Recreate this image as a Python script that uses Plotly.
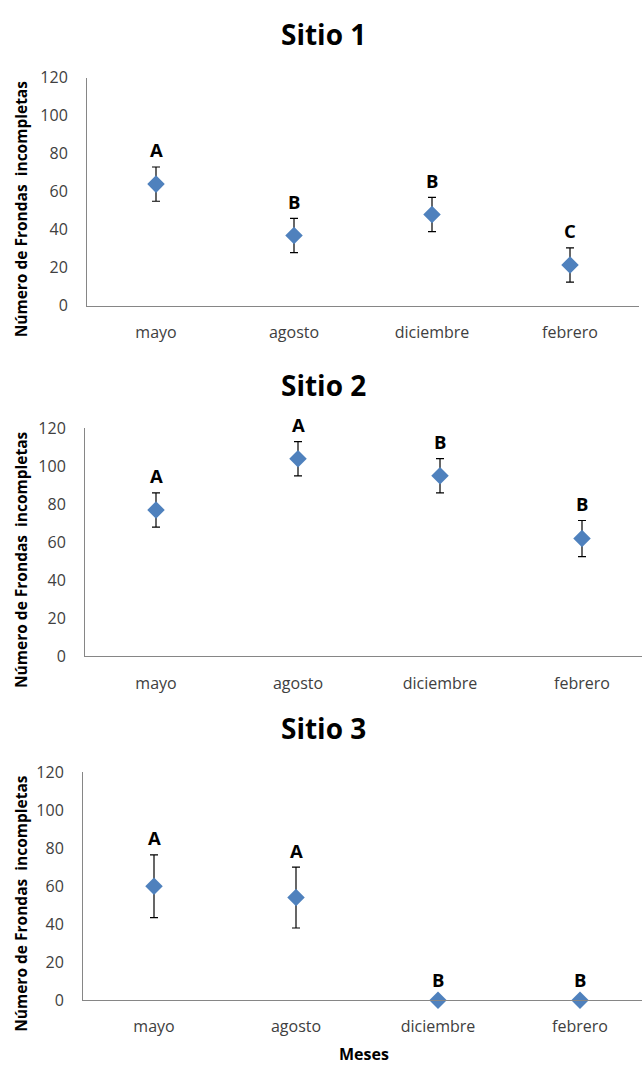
import plotly.graph_objects as go

meses = ["mayo", "agosto", "diciembre", "febrero"]
titulos = ["Sitio 1", "Sitio 2", "Sitio 3"]

sitio1_media = [64, 37, 48, 21.5]
sitio1_error = [9, 9, 9, 9]
sitio1_letras = ["A", "B", "B", "C"]

sitio2_media = [77, 104, 95, 62]
sitio2_error = [9, 9, 9, 9.5]
sitio2_letras = ["A", "A", "B", "B"]

sitio3_media = [60, 54, 0, 0]
sitio3_error = [16.5, 16, 0, 0]
sitio3_letras = ["A", "A", "B", "B"]

y_ticks = [0, 20, 40, 60, 80, 100, 120]

datos = [
    (sitio1_media, sitio1_error, sitio1_letras),
    (sitio2_media, sitio2_error, sitio2_letras),
    (sitio3_media, sitio3_error, sitio3_letras),
]

W, H = 642, 1073
# layout geometry in pixels: (top of 120, y of 0, left axis x, category band width)
panel_px = [(68, 301, 87, 138), (426, 659, 85, 142), (777, 1010, 83, 142)]
title_px = [23, 382, 732]

FONT = "Open Sans"
AXIS_COLOR = "#868686"
TEXT_COLOR = "#404040"

fig = go.Figure()
annotations = []

for i, ((media, err, letras), (top, bot, left, band)) in enumerate(zip(datos, panel_px)):
    n = i + 1
    xa = "x" if n == 1 else f"x{n}"
    ya = "y" if n == 1 else f"y{n}"
    fig.add_trace(go.Scatter(
        x=meses, y=media, mode="markers",
        marker=dict(symbol="diamond", size=13.5, color="#4F81BD"),
        error_y=dict(type="data", array=err, visible=True, color="#000000",
                     thickness=1.2, width=4),
        xaxis=xa, yaxis=ya, cliponaxis=False, showlegend=False,
    ))
    right = min(left + 4 * band, W)
    x_hi = -0.5 + (right - left) / band
    dom_y = [1 - bot / H, 1 - top / H]
    axkey = "xaxis" if n == 1 else f"xaxis{n}"
    aykey = "yaxis" if n == 1 else f"yaxis{n}"
    fig.layout[axkey] = dict(
        domain=[left / W, right / W], anchor=ya, type="category",
        categoryorder="array", categoryarray=meses, range=[-0.5, x_hi],
        showline=True, linecolor=AXIS_COLOR, linewidth=1, showgrid=False,
        zeroline=False, ticks="", ticklabelstandoff=12,
        tickfont=dict(family=FONT, size=16, color=TEXT_COLOR),
        fixedrange=True,
    )
    fig.layout[aykey] = dict(
        domain=dom_y, anchor=xa, range=[0, 120], tickvals=y_ticks,
        showline=True, linecolor=AXIS_COLOR, linewidth=1, showgrid=False,
        zeroline=False, ticks="", ticklabelstandoff=15,
        tickfont=dict(family=FONT, size=16, color=TEXT_COLOR),
        fixedrange=True,
    )
    for m, v, e, l in zip(meses, media, err, letras):
        annotations.append(dict(
            x=m, y=v + e, xref=xa, yref=ya, text=l, showarrow=False,
            xanchor="center", yanchor="middle", yshift=17 if e > 0 else 21,
            font=dict(family=FONT, size=18.5, color="#000000", weight="bold"),
        ))
    annotations.append(dict(
        x=324 / W, y=1 - title_px[i] / H, xref="paper", yref="paper",
        text=titulos[i], showarrow=False, xanchor="center", yanchor="middle",
        font=dict(family=FONT, size=28, color="#000000", weight="bold"),
    ))
    annotations.append(dict(
        x=21 / W, y=1 - ((top + bot) / 2 + 18) / H, xref="paper", yref="paper",
        text="Número de Frondas  incompletas", textangle=-90, showarrow=False,
        xanchor="center", yanchor="middle",
        font=dict(family=FONT, size=15.5, color="#000000", weight="bold"),
    ))

annotations.append(dict(
    x=364 / W, y=1 - 1065 / H, xref="paper", yref="paper", text="Meses",
    showarrow=False, xanchor="center", yanchor="middle",
    font=dict(family=FONT, size=16, color="#000000", weight="bold"),
))

fig.update_layout(
    width=W, height=H, margin=dict(l=0, r=0, t=0, b=0),
    paper_bgcolor="white", plot_bgcolor="white",
    annotations=annotations,
)

fig.write_html("out.html")
